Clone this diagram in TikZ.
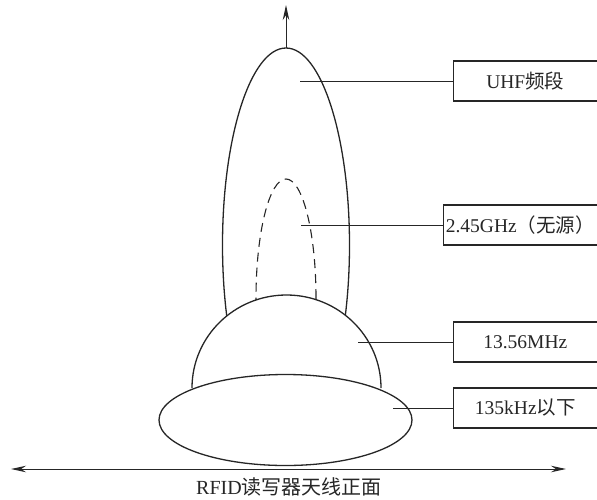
\documentclass[tikz,border=0pt]{standalone}
\usepackage{fontspec}
\setmainfont{Liberation Serif}
\newfontfamily\cjk{Noto Sans CJK SC}
\usetikzlibrary{arrows.meta}
\begin{document}
\begin{tikzpicture}[x=1pt,y=1pt,
  lobe/.style={draw=black!85, line width=1.3pt},
  boxlabel/.style={draw=black!85, line width=1.1pt, minimum height=40pt, inner sep=0pt, anchor=west, text=black!85, font=\fontsize{19.5}{22}\selectfont},
  lead/.style={draw=black!85, line width=1pt},
  tip/.style={draw=black!85, line width=1pt, -{Stealth[length=15pt,width=6.5pt]}},
  dtip/.style={draw=black!85, line width=1pt, {Stealth[length=15pt,width=6.5pt]}-{Stealth[length=15pt,width=6.5pt]}}]
\useasboundingbox (0,0) rectangle (597,-499);
% upward axis
\coordinate (lobetop) at (286,-48);
\coordinate (uptip) at (286,-5);
\draw[tip] (lobetop) -- (uptip);
% UHF lobe
\draw[lobe] (286,-245) ellipse [x radius=63.5, y radius=197];
% 2.45 GHz dashed lobe
\draw[lobe, line width=1.1pt, dash pattern=on 9pt off 6pt] (286,-298) ellipse [x radius=30, y radius=119];
% 13.56 MHz hemisphere
\fill[white] (192,-388) arc[start angle=180, end angle=0, x radius=94.5, y radius=93] -- cycle;
\draw[lobe] (192,-388) arc[start angle=180, end angle=0, x radius=94.5, y radius=93];
% 135 kHz flat ellipse
\filldraw[lobe, fill=white] (285.5,-420) ellipse [x radius=126.5, y radius=45.5];
% boxes
\node[boxlabel, minimum width=143.5pt] (uhf) at (453,-81) {UHF{\cjk 频段}};
\node[boxlabel, minimum width=153.5pt] (ghz) at (443,-225) {2.45GHz{\cjk （无源）}};
\node[boxlabel, minimum width=143.5pt] (mhz) at (453,-342) {13.56MHz};
\node[boxlabel, minimum width=143.5pt] (khz) at (453,-408) {135kHz{\cjk 以下}};
% leaders
\coordinate (a1) at (300,-81);
\coordinate (a2) at (301,-225);
\coordinate (a3) at (358,-342);
\coordinate (a4) at (393,-408);
\draw[lead] (a1) -- (uhf.west);
\draw[lead] (a2) -- (ghz.west);
\draw[lead] (a3) -- (mhz.west);
\draw[lead] (a4) -- (khz.west);
% bottom axis
\coordinate (bl) at (11,-469);
\coordinate (br) at (566,-469);
\draw[dtip] (bl) -- (br);
\node[text=black!85, font=\fontsize{20}{22}\selectfont] (cap) at (289,-487) {RFID{\cjk 读写器天线正面}};
\end{tikzpicture}
\end{document}
